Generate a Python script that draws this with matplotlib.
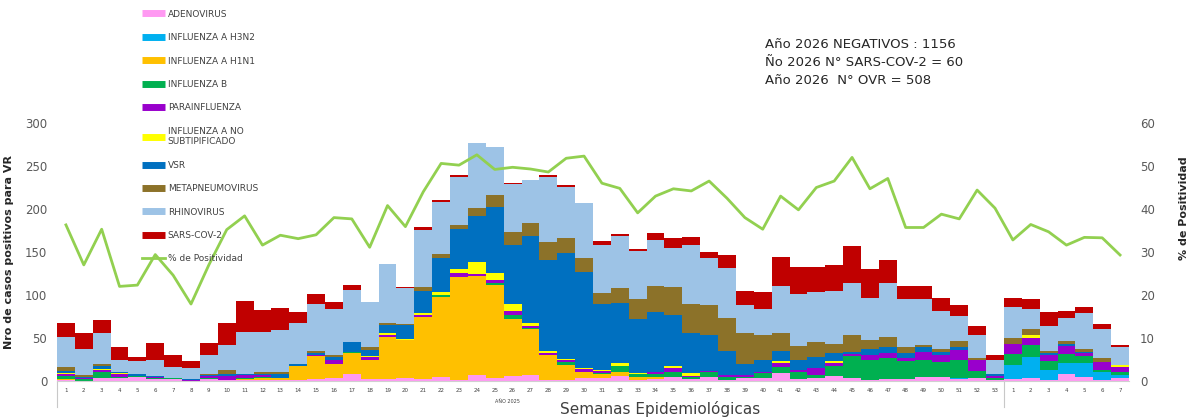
import numpy as np
import matplotlib
matplotlib.use("Agg")
import matplotlib.pyplot as plt
from matplotlib.lines import Line2D
import matplotlib.transforms as mtransforms

# semanas: 2025 (1-53) y 2026 (1-7)
weeks = [str(i) for i in range(1, 54)] + [str(i) for i in range(1, 8)]

adeno = [1, 0, 4, 3, 5, 2, 2, 0, 2, 1, 1, 1, 1, 1, 2, 4, 8, 2, 2, 3,
         2, 5, 1, 7, 3, 6, 7, 1, 1, 4, 4, 6, 1, 2, 5, 2, 5, 1, 3, 3,
         9, 2, 3, 6, 4, 1, 2, 2, 5, 5, 2, 4, 1,
         2, 3, 1, 8, 5, 1, 3]
h3n2 = [0]*50 + [1, 0, 0] + [17, 25, 12, 13, 16, 10, 4]
h1n1 = [1, 0, 0, 0, 0, 0, 0, 0, 0, 0, 1, 3, 2, 16, 27, 16, 24, 22, 49, 45,
        72, 93, 120, 115, 109, 66, 53, 29, 18, 7, 4, 4, 4, 3, 0, 0, 0, 0, 0, 0,
        0, 0, 0, 0, 0, 0, 0, 0, 0, 0, 0, 0, 0,
        0, 0, 0, 0, 0, 0, 0]
flu_b = [4, 2, 6, 2, 1, 1, 1, 0, 1, 0, 1, 1, 1, 0, 0, 0, 2, 1, 0, 0,
         0, 2, 0, 0, 2, 5, 2, 0, 3, 0, 1, 8, 3, 3, 5, 3, 6, 4, 2, 6,
         7, 9, 4, 12, 25, 23, 25, 21, 19, 17, 21, 8, 3,
         12, 14, 10, 10, 8, 2, 4]
para = [2, 2, 3, 3, 0, 2, 0, 1, 3, 5, 4, 2, 0, 0, 1, 5, 0, 3, 3, 0,
        3, 0, 5, 3, 4, 4, 2, 3, 2, 3, 3, 0, 0, 3, 5, 1, 1, 2, 2, 1,
        5, 2, 8, 3, 2, 6, 6, 4, 10, 8, 12, 12, 2,
        12, 8, 7, 10, 3, 9, 5]
flu_ns = [1, 0, 1, 1, 0, 0, 0, 0, 0, 0, 0, 0, 0, 0, 0, 0, 0, 1, 2, 1,
          2, 4, 4, 13, 8, 8, 4, 2, 2, 1, 1, 3, 1, 0, 2, 3, 0, 0, 0, 0,
          2, 0, 0, 2, 0, 0, 0, 0, 0, 0, 0, 0, 0,
          0, 3, 0, 0, 1, 0, 3]
vsr = [3, 1, 3, 2, 2, 1, 1, 1, 1, 2, 1, 1, 4, 3, 3, 3, 11, 7, 9, 16,
       26, 39, 47, 54, 76, 69, 101, 106, 123, 112, 77, 70, 63, 69, 60, 47, 41, 28, 13, 14,
       12, 11, 13, 9, 3, 7, 6, 6, 5, 4, 4, 0, 2,
       0, 0, 2, 2, 1, 0, 0]
meta = [4, 2, 3, 0, 0, 0, 0, 0, 1, 5, 0, 2, 2, 0, 2, 2, 0, 3, 2, 1,
        4, 5, 4, 9, 14, 15, 15, 21, 17, 16, 12, 17, 23, 30, 32, 33, 35, 38, 36, 30,
        21, 17, 17, 11, 19, 11, 12, 6, 3, 3, 7, 3, 0,
        7, 7, 3, 3, 3, 5, 0]
rhino = [35, 30, 36, 14, 15, 18, 12, 13, 22, 29, 49, 47, 49, 48, 54, 54, 61, 53, 69, 42,
         67, 60, 56, 76, 56, 56, 50, 75, 60, 64, 56, 61, 56, 54, 46, 69, 55, 58, 32, 30,
         54, 60, 58, 62, 61, 48, 63, 56, 53, 44, 29, 26, 17,
         36, 24, 29, 27, 42, 34, 20]
sars = [16, 19, 15, 14, 5, 20, 14, 8, 14, 26, 36, 26, 26, 12, 12, 8, 6, 0, 0, 1,
        3, 3, 2, 0, 0, 1, 0, 2, 2, 0, 5, 2, 2, 8, 11, 10, 7, 15, 17, 20,
        34, 31, 30, 30, 43, 34, 27, 15, 15, 15, 12, 11, 5,
        11, 11, 16, 8, 7, 5, 3]
positividad = [36.3, 27, 35.3, 22, 22.3, 29.4, 24.6, 17.9, 27, 35.2,
               38.4, 31.6, 33.9, 33.1, 34, 38, 37.7, 31.1, 40.8, 35.9,
               44, 50.6, 50.2, 52.6, 49.2, 49.7, 49.3, 48.6, 51.8, 52.3,
               46, 44.8, 39.1, 43, 44.7, 44.2, 46.5, 42.5, 38, 35.3,
               43, 39.8, 45, 46.5, 52, 44.7, 47.1, 35.7, 35.7, 38.8,
               37.7, 44.4, 40.2,
               32.8, 36.4, 34.7, 31.6, 33.4, 33.3, 29.3]

series = [
    ("ADENOVIRUS", adeno, "#FF99F2"),
    ("INFLUENZA A H3N2", h3n2, "#00B0F0"),
    ("INFLUENZA A H1N1", h1n1, "#FFC000"),
    ("INFLUENZA B", flu_b, "#00B050"),
    ("PARAINFLUENZA", para, "#9900CC"),
    ("INFLUENZA A NO\nSUBTIPIFICADO", flu_ns, "#FFFF00"),
    ("VSR", vsr, "#0070C0"),
    ("METAPNEUMOVIRUS", meta, "#8C7229"),
    ("RHINOVIRUS", rhino, "#9DC3E6"),
    ("SARS-COV-2", sars, "#C00000"),
]

fig = plt.figure(figsize=(11.89, 4.17), dpi=100)
ax = fig.add_axes([57/1189, 36/417, (1129-57)/1189, 258/417])
x = np.arange(len(weeks))

bottom = np.zeros(len(weeks))
handles = []
for name, vals, col in series:
    vals = np.array(vals, dtype=float)
    ax.bar(x, vals, width=1.0, bottom=bottom, color=col, linewidth=0)
    bottom += vals
    handles.append(Line2D([0], [0], color=col, lw=5, solid_capstyle="butt", label=name))

ax.set_xlim(-0.5, len(weeks) - 0.5)
ax.set_ylim(0, 300)
ax.set_yticks(range(0, 301, 50))
ax.set_xticks(x)
ax.set_xticklabels(weeks, fontsize=4, color="#404040")
ax.tick_params(axis="both", length=0)
ax.tick_params(axis="y", labelsize=8.5, labelcolor="#595959", pad=7)
ax.tick_params(axis="x", pad=5)
for s in ["top", "right", "left"]:
    ax.spines[s].set_visible(False)
ax.spines["bottom"].set_color("#D0D0D0")
ax.set_ylabel("Nro de casos positivos para VR", fontsize=8, fontweight="bold", color="#262626")
ax.yaxis.set_label_coords(-0.04, 0.5)

# separadores del eje de categorias
trans = mtransforms.blended_transform_factory(ax.transData, ax.transAxes)
for xv in [-0.5, 52.5]:
    ax.add_line(Line2D([xv, xv], [0, -0.1], transform=trans, color="#C8C8C8", lw=0.8, clip_on=False))
ax.text(24.7, -0.08, "AÑO 2025", transform=trans, fontsize=3.5, color="#404040", ha="center", va="center")

ax2 = ax.twinx()
ax2.plot(x, positividad, color="#92D050", lw=2)
ax2.set_ylim(0, 60)
ax2.set_yticks(range(0, 61, 10))
ax2.tick_params(axis="y", length=0, labelsize=8.5, labelcolor="#595959", pad=8)
for s in ax2.spines.values():
    s.set_visible(False)
ax2.set_ylabel("% de Positividad", fontsize=8, fontweight="bold", color="#262626")
ax2.yaxis.set_label_coords(1.047, 0.67)
handles.append(Line2D([0], [0], color="#92D050", lw=2, label="% de Positividad"))

leg = ax2.legend(handles=handles, loc="upper left", bbox_to_anchor=(138/1189, 1 - 6/417),
                 bbox_transform=fig.transFigure, frameon=False, fontsize=6.5,
                 handlelength=2.6, labelspacing=1.6, handletextpad=0.3, borderaxespad=0)
for t in leg.get_texts():
    t.set_color("#404040")

fig.text(765/1189, 1 - 45/417, "Año 2026 NEGATIVOS : 1156", fontsize=9.5, va="center", color="#262626")
fig.text(765/1189, 1 - 62/417, "Ño 2026 N° SARS-COV-2 = 60", fontsize=9.5, va="center", color="#262626")
fig.text(765/1189, 1 - 80/417, "Año 2026  N° OVR = 508", fontsize=9.5, va="center", color="#262626")
fig.text(660/1189, 1 - 409/417, "Semanas Epidemiológicas", fontsize=11, ha="center", va="center", color="#404040")

fig.savefig("out.png", dpi=100)
